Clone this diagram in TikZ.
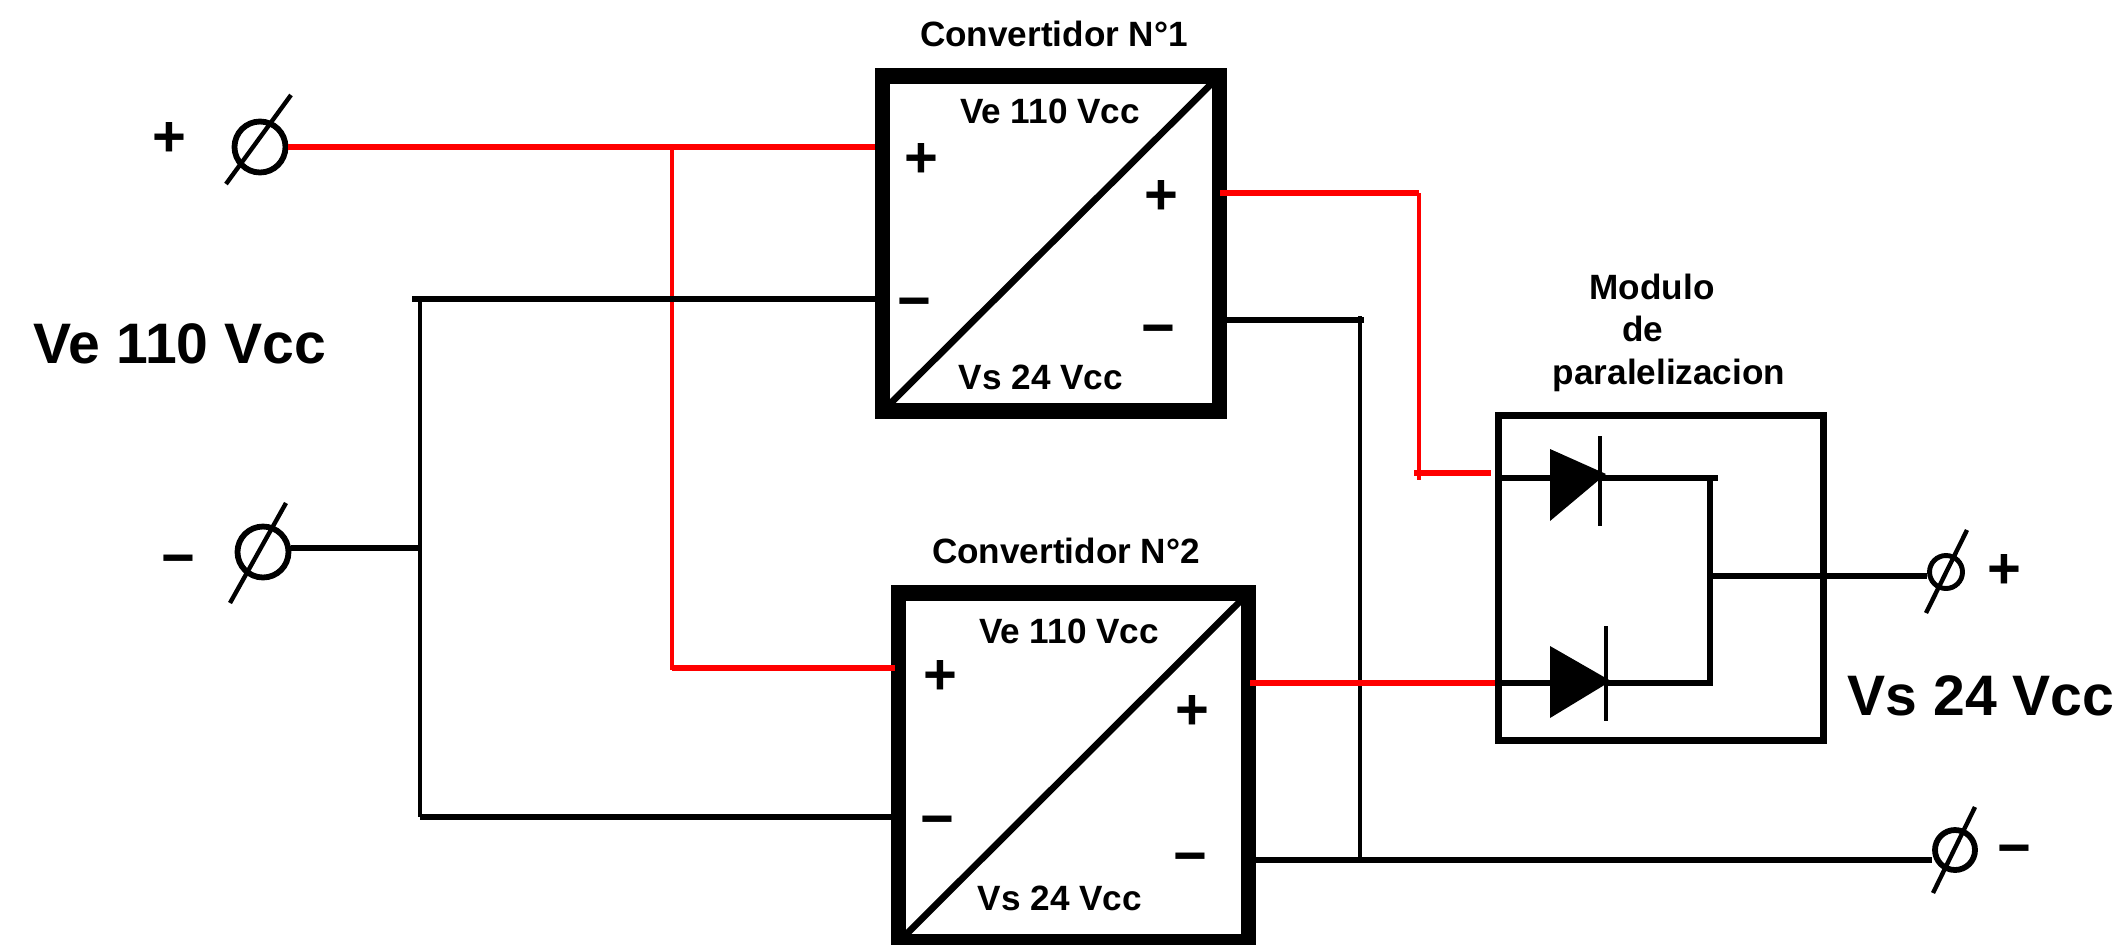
\documentclass[tikz,border=0pt]{standalone}
\usepackage{fontspec}
\setmainfont{Liberation Sans}
\tikzset{
    smalltext/.style={inner sep=0pt,anchor=base,font=\bfseries\fontsize{20}{24}\selectfont},
    bigtext/.style={inner sep=0pt,anchor=base,font=\bfseries\fontsize{32.5}{36}\selectfont},
    signtext/.style={inner sep=0pt,yshift=-2pt,font=\bfseries\fontsize{33}{36}\selectfont},
    minustext/.style={inner sep=0pt,yshift=-6pt,font=\bfseries\fontsize{33}{36}\selectfont},
    convbox/.style={draw,line width=8.8pt,inner sep=0pt,minimum width=6.74cm,minimum height=6.71cm},
    modbox/.style={draw,line width=4pt,inner sep=0pt,minimum width=6.5cm,minimum height=6.5cm},
    terminal/.style={draw,circle,line width=3.3pt,inner sep=0pt},
    diag/.style={line width=3.8pt,shorten <=5pt,shorten >=5pt},
    slash/.style={line width=2.5pt},
    wire/.style={line width=3pt},
    redwire/.style={line width=3.2pt,red},
}
\begin{document}
\begin{tikzpicture}[x=0.02cm,y=-0.02cm]
    \clip (0,0) rectangle (2119,944);

    % converters
    \node[convbox] (conv1) at (1051,243.5) {};
    \node[convbox,minimum width=7cm,minimum height=6.98cm] (conv2) at (1073.5,767.5) {};
    \draw[diag] (conv1.south west) -- (conv1.north east);
    \draw[diag] (conv2.south west) -- (conv2.north east);

    % parallel module
    \node[modbox] (mod) at (1661,578) {};

    % terminals
    \node[terminal,minimum size=1.02cm] (tinpos) at (260,147) {};
    \node[terminal,minimum size=1.02cm] (tinneg) at (263,552) {};
    \node[terminal,minimum size=0.66cm,line width=2.8pt] (toutpos) at (1946,572) {};
    \node[terminal,minimum size=0.8cm] (toutneg) at (1955,850) {};
    \draw[slash] (tinpos) ++(-34,37) -- ++(65,-89);
    \draw[slash] (tinneg) ++(-33,51) -- ++(56,-100);
    \draw[slash] (toutpos) ++(-20,41) -- ++(41,-83);
    \draw[slash] (toutneg) ++(-22,43) -- ++(42,-86);

    % junctions
    \coordinate (jred) at (672,147);
    \coordinate (c2in) at (895,668);
    \coordinate (jneg) at (420,299);
    \coordinate (jneg2) at (420,817);
    \coordinate (jtin) at (420,548);
    \coordinate (c1out) at (1220,193);
    \coordinate (jred2) at (1419,193);
    \coordinate (jred3) at (1419,473);
    \coordinate (jred4) at (1414,473);
    \coordinate (modin) at (1491,473);
    \coordinate (c2out) at (1250,683);
    \coordinate (jblk) at (1364,320);
    \coordinate (jblk2) at (1360,860);

    % diodes
    \coordinate (d1a) at (1550,478);
    \coordinate (d1k) at (1600,478);
    \coordinate (d2a) at (1550,683);
    \coordinate (d2k) at (1606,683);
    \coordinate (jout1) at (1718,478);
    \coordinate (jout2) at (1710,478);
    \coordinate (jout3) at (1710,683);
    \coordinate (jout4) at (1710,576);
    \fill (1550,449) -- (1606,474) -- (1550,521) -- cycle;
    \fill (1550,646) -- (1611,681) -- (1550,718) -- cycle;
    \draw[wire,line width=2.2pt] (1600,436) -- (1600,526);
    \draw[wire,line width=2.2pt] (1606,626) -- (1606,721);

    % input side
    \draw[redwire,line width=2.2pt] (jred) |- (c2in);
    \draw[redwire] (672,668) -- (c2in);
    \draw[wire] (412,299) -- (jneg -| conv1.west);
    \draw[wire,line width=2.4pt] (jneg) -- (jneg2);
    \draw[wire,line width=3.2pt] (jneg2) -- (jneg2 -| conv2.west);
    \draw[wire] (jtin -| tinneg.east) -- (jtin);
    \draw[redwire] (tinpos.east) -- (tinpos.east -| conv1.west);

    % output side
    \draw[wire] (conv1.east |- jblk) -- (jblk);
    \draw[wire,line width=2.4pt] (1360,316) -- (jblk2);
    \draw[wire] (conv2.east |- jblk2) -- (jblk2 -| toutneg.west);
    \draw[redwire] (c1out) -- (jred2);
    \draw[redwire,line width=2.4pt] (jred2) -- (1419,480);
    \draw[redwire] (jred4) -- (modin);
    \draw[redwire] (c2out) -- (c2out -| mod.west);
    \draw[wire] (mod.west |- d1a) -- (d1a);
    \draw[wire] (d1k) -- (jout1);
    \draw[wire] (mod.west |- d2a) -- (d2a);
    \draw[wire] (d2k) -- (jout3) -- (jout2);
    \draw[wire] (jout4) -- (jout4 -| toutpos.west);

    % texts
    \node[smalltext] (title1) at (1054,46) {Convertidor N°1};
    \node[smalltext] (title2) at (1066,563) {Convertidor N°2};
    \node[smalltext] (in1) at (1050,123) {Ve 110 Vcc};
    \node[smalltext] (out1) at (1041,389) {Vs 24 Vcc};
    \node[smalltext] (in2) at (1069,643) {Ve 110 Vcc};
    \node[smalltext] (out2) at (1060,910) {Vs 24 Vcc};
    \node[smalltext] (modt1) at (1652,299) {Modulo};
    \node[smalltext] (modt2) at (1643,341) {de};
    \node[smalltext] (modt3) at (1669,384) {paralelizacion};
    \node[bigtext] (vein) at (180,363) {Ve 110 Vcc};
    \node[bigtext] (vsout) at (1981,715) {Vs 24 Vcc};

    % signs
    \node[signtext] (sinpos) at (169,136) {+};
    \node[minustext] (sinneg) at (178,556) {−};
    \node[signtext] (soutpos) at (2004,568) {+};
    \node[minustext] (soutneg) at (2014,846) {−};
    \node[signtext] (c1ip) at (921,157) {+};
    \node[minustext] (c1in) at (914,299) {−};
    \node[signtext] (c1op) at (1161,194) {+};
    \node[minustext] (c1on) at (1158,326) {−};
    \node[signtext] (c2ip) at (940,674) {+};
    \node[minustext] (c2in2) at (937,817) {−};
    \node[signtext] (c2op) at (1192,709) {+};
    \node[minustext] (c2on) at (1190,854) {−};
\end{tikzpicture}
\end{document}
